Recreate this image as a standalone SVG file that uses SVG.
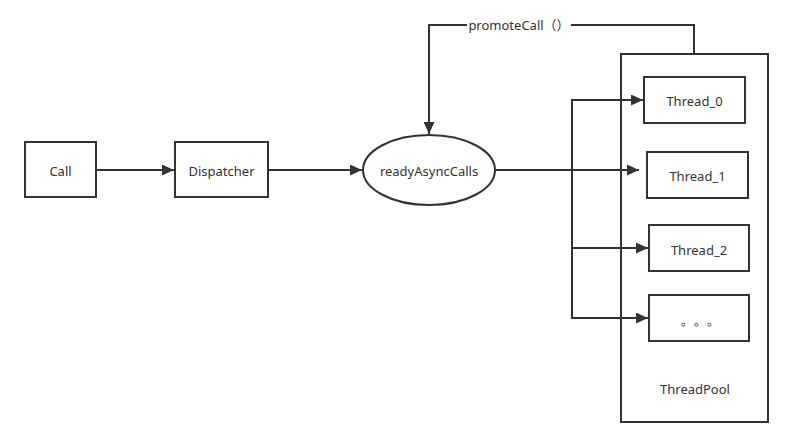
<svg xmlns="http://www.w3.org/2000/svg" width="793" height="448" viewBox="0 0 793 448">
<style>
.n{fill:#fff;stroke:#333;stroke-width:2}
.t{font-family:"Noto Sans","Liberation Sans","Noto Sans CJK SC",sans-serif;font-size:13px;fill:#333;text-anchor:middle;dominant-baseline:central}
.c{fill:none;stroke:#333;stroke-width:2}
</style>
<defs>
<marker id="a" markerUnits="userSpaceOnUse" markerWidth="13" markerHeight="11" refX="12" refY="5.5" orient="auto">
<path d="M0,0 L12,5.5 L0,11 z" fill="#333"/>
</marker>
</defs>
<rect width="793" height="448" fill="#fff"/>
<g id="threadpool">
<rect class="n" x="621" y="54" width="147" height="368"/>
<text class="t" x="695" y="389">ThreadPool</text>
</g>
<g id="connectors">
<path class="c" d="M96,170 H174" marker-end="url(#a)"/>
<path class="c" d="M268,170 H362" marker-end="url(#a)"/>
<path class="c" d="M694,54 V25 H429 V134" marker-end="url(#a)"/>
<rect x="467" y="16" width="104" height="18" fill="#fff"/>
<text class="t" x="519" y="25">promoteCall（）</text>
<path class="c" d="M495,170 H639" marker-end="url(#a)"/>
<path class="c" d="M572,170 V100 H643" marker-end="url(#a)"/>
<path class="c" d="M572,170 V248 H648" marker-end="url(#a)"/>
<path class="c" d="M572,248 V318 H648" marker-end="url(#a)"/>
</g>
<g id="call">
<rect class="n" x="25" y="142" width="71" height="55"/>
<text class="t" x="60.5" y="171">Call</text>
</g>
<g id="dispatcher">
<rect class="n" x="175" y="142" width="93" height="55"/>
<text class="t" x="221.5" y="171">Dispatcher</text>
</g>
<g id="readyAsyncCalls">
<ellipse class="n" cx="429" cy="170" rx="66" ry="35"/>
<text class="t" x="429" y="171">readyAsyncCalls</text>
</g>
<g id="thread0">
<rect class="n" x="644" y="77" width="101" height="46"/>
<text class="t" x="694.5" y="101">Thread_0</text>
</g>
<g id="thread1">
<rect class="n" x="647" y="152" width="101" height="46"/>
<text class="t" x="697.5" y="176">Thread_1</text>
</g>
<g id="thread2">
<rect class="n" x="649" y="225" width="100" height="46"/>
<text class="t" x="699" y="250">Thread_2</text>
</g>
<g id="threadN">
<rect class="n" x="649" y="295" width="100" height="46"/>
<text x="681" y="326" font-family="'Noto Sans CJK SC',sans-serif" font-size="12" letter-spacing="7" fill="#333">。。。</text>
</g>
</svg>
